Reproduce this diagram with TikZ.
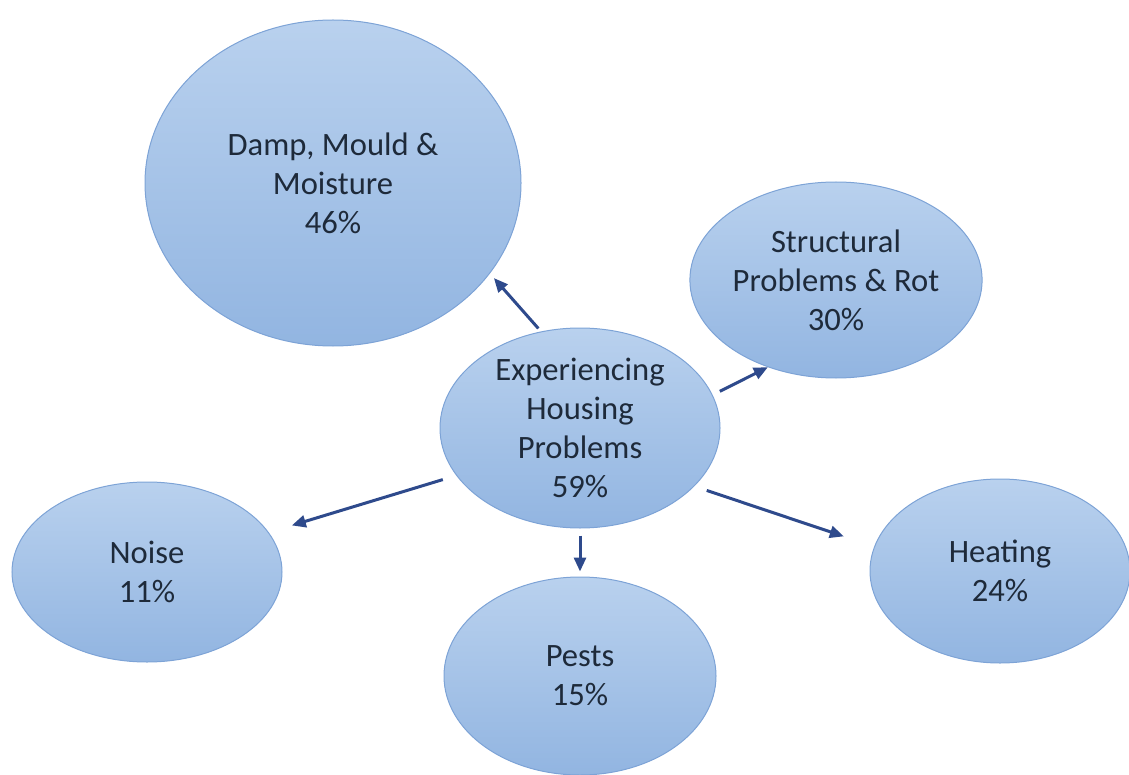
\documentclass[tikz,border=0pt]{standalone}
\usepackage{fontspec}
\setmainfont{Carlito}
\usepackage{tikz}
\usetikzlibrary{arrows.meta,shapes.geometric}
\definecolor{HousingTop}{HTML}{B9D1EE}
\definecolor{HousingBottom}{HTML}{92B5E1}
\definecolor{HousingEdge}{HTML}{7DA3D6}
\definecolor{HousingArrow}{HTML}{2E4A8C}
\definecolor{HousingText}{HTML}{1E2A3A}

\begin{document}
\begin{tikzpicture}[x=0.5pt,y=-0.5pt,
  bubble/.style={ellipse,draw=HousingEdge,line width=0.5pt,
    top color=HousingTop,bottom color=HousingBottom,inner sep=0pt,
    align=center,text=HousingText,font=\fontsize{16.3}{19.5}\selectfont},
  link/.style={draw=HousingArrow,line width=1.5pt,-{Triangle[length=7pt,width=6pt]}}]
  \useasboundingbox (0,0) rectangle (1129,775);
  \node[bubble,minimum width=188pt,minimum height=163pt] (damp) at (333,183) {Damp, Mould \&\\Moisture\\46\%};
  \node[bubble,minimum width=138pt,minimum height=98pt] (struct) at (836,280) {Structural\\Problems \& Rot\\30\%};
  \node[bubble,minimum width=140pt,minimum height=100pt] (hub) at (580,428) {Experiencing\\Housing\\Problems\\59\%};
  \node[bubble,minimum width=135pt,minimum height=90pt] (noise) at (147,572) {Noise\\11\%};
  \node[bubble,minimum width=130pt,minimum height=92pt] (heat) at (1000,571) {Heating\\24\%};
  \node[bubble,minimum width=136pt,minimum height=99pt] (pests) at (580,676) {Pests\\15\%};
  % arrows out of the hub
  \draw[link,shorten <=2pt,shorten >=3pt] (hub.112) -- (damp.-30);
  \draw[link,shorten <=4pt] (hub.14) -- (struct.232);
  \draw[link,shorten <=7pt,shorten >=12pt] (hub.201) -- (noise.18);
  \draw[link,shorten <=3.5pt,shorten >=2.5pt] (hub.south) -- (pests.north);
  \draw[link,shorten <=6.5pt,shorten >=16pt] (hub.-27) -- (heat.169);
\end{tikzpicture}
\end{document}
